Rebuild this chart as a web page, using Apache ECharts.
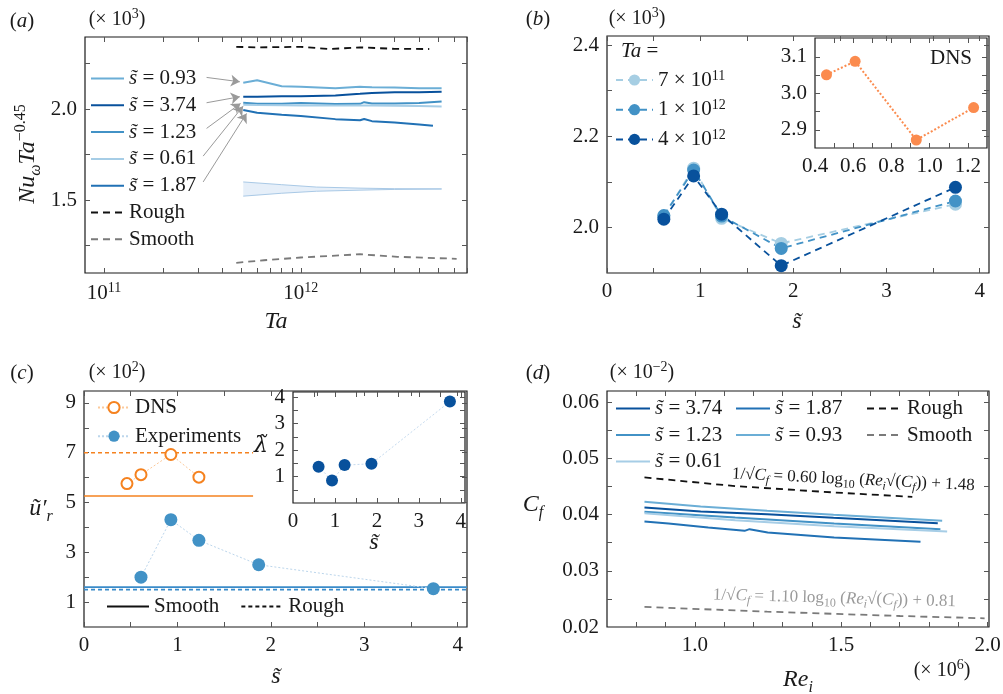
<!DOCTYPE html>
<html>
<head>
<meta charset="utf-8">
<script src="https://cdn.jsdelivr.net/npm/echarts@6/dist/echarts.min.js"></script>
<style>
html, body { margin: 0; padding: 0; background: #fff; }
#main { width: 1003px; height: 694px; }
</style>
</head>
<body>
<div id="main"></div>
<script>
const SERIF = 'Liberation Serif';

// ---------- (a) Nu_w Ta^-0.45 (x10^3) against Ta (Ta in units of 1e12)
const taCurves = [0.51, 0.6, 0.8, 1.0, 1.5, 2.0, 2.1, 2.3, 3.0, 4.0, 5.2];
const nuA093 = [2.145, 2.159, 2.126, 2.123, 2.114, 2.123, 2.122, 2.120, 2.118, 2.114, 2.114];
const nuA374 = [2.068, 2.068, 2.070, 2.071, 2.075, 2.084, 2.086, 2.088, 2.092, 2.093, 2.095];
const nuA123 = [2.035, 2.029, 2.029, 2.033, 2.028, 2.029, 2.038, 2.031, 2.031, 2.033, 2.042];
const nuA061 = [2.024, 2.022, 2.021, 2.020, 2.020, 2.020, 2.020, 2.020, 2.019, 2.017, 2.015];
const ta187 = [0.51, 0.6, 0.8, 1.0, 1.5, 2.0, 2.1, 2.3, 3.0, 4.0, 4.7];
const nuA187 = [1.995, 1.980, 1.969, 1.962, 1.945, 1.939, 1.946, 1.934, 1.927, 1.916, 1.908];
const taRough = [0.47, 0.6, 1.0, 1.4, 2.0, 3.0, 4.5];
const nuRough = [2.342, 2.339, 2.342, 2.330, 2.339, 2.331, 2.330];
const taSmooth = [0.47, 0.65, 1.0, 2.0, 3.1, 6.2];
const nuSmooth = [1.156, 1.170, 1.185, 1.203, 1.189, 1.178];
const taBand = [0.51, 0.8, 1.2, 2.0, 3.0, 5.2];
const bandUpper = [1.600, 1.585, 1.572, 1.566, 1.563, 1.562];
const bandLower = [1.522, 1.538, 1.549, 1.555, 1.559, 1.561];
// arrows from the legend labels to the curve starts: [Ta, value] -> [Ta, value]
const arrowsA = [
  [[0.332, 2.174], [0.490, 2.150]],
  [[0.332, 2.035], [0.490, 2.068]],
  [[0.332, 1.894], [0.494, 2.031]],
  [[0.319, 1.742], [0.509, 2.016]],
  [[0.319, 1.600], [0.530, 1.976]]
];
const taTicks = [1e11, 2e11, 3e11, 4e11, 5e11, 6e11, 7e11, 8e11, 9e11, 1e12, 2e12, 3e12, 4e12, 5e12, 6e12, 7e12];
const taLabels = [1e11, 1e12];

// ---------- (b) Nu_w Ta^-0.45 against s
const sB = [0.61, 0.93, 1.23, 1.87, 3.74];
const nuTa7e11 = [2.025, 2.130, 2.020, 1.965, 2.051];
const nuTa1e12 = [2.026, 2.126, 2.025, 1.954, 2.058];
const nuTa4e12 = [2.018, 2.113, 2.029, 1.916, 2.088];
const sDns = [0.46, 0.61, 0.93, 1.23];
const nuDns = [3.051, 3.088, 2.872, 2.961];

// ---------- (c) u'_r (x10^2) against s
const urDns = [5.76, 6.12, 6.93, 6.02];
const sExp = [0.61, 0.93, 1.23, 1.87, 3.74];
const urExp = [2.00, 4.31, 3.48, 2.50, 1.54];
const urDnsRough = 7.0, urDnsSmooth = 5.26, sDnsRefEnd = 1.81;
const urExpSmooth = 1.60, urExpRough = 1.50;
const lambdaExp = [1.37, 0.85, 1.43, 1.48, 3.83];

// ---------- (d) C_f against Re_i (Re_i in units of 1e6)
const reD374 = [0.828, 1.02, 1.247, 1.474, 1.83];
const cfD374 = [0.04127, 0.04056, 0.04008, 0.03943, 0.03848];
const reD187 = [0.828, 0.910, 1.046, 1.170, 1.187, 1.249, 1.476, 1.771];
const cfD187 = [0.03878, 0.03842, 0.03771, 0.03711, 0.03741, 0.03682, 0.03592, 0.03515];
const reD123 = [0.828, 1.138, 1.476, 1.839];
const cfD123 = [0.0405, 0.03949, 0.03842, 0.03741];
const reD093 = [0.828, 1.02, 1.247, 1.474, 1.845];
const cfD093 = [0.04228, 0.04145, 0.04068, 0.03996, 0.0389];
const reD061 = [0.828, 1.138, 1.476, 1.862];
const cfD061 = [0.04026, 0.03901, 0.03794, 0.03699];
const reRough = [0.828, 1.138, 1.476, 1.743];
const cfRough = [0.04662, 0.04507, 0.04394, 0.04317];
const reSmooth = [0.828, 1.247, 1.701, 1.990];
const cfSmooth = [0.02357, 0.02273, 0.02196, 0.02155];

const C374 = '#08519c', C187 = '#2171b5', C123 = '#4292c6', C093 = '#6baed6', C061 = '#a6cde6';
const ORANGE = '#f5821f', ORANGE_IN = '#fb8b4e';

function rich(fs, lh) {
  const s = Math.round(fs * 0.68);
  return {
    i: { fontFamily: SERIF, fontStyle: 'italic', fontSize: fs, lineHeight: lh },
    g: { fontFamily: 'DejaVu Serif', fontStyle: 'italic', fontSize: fs - 2, lineHeight: lh },
    n: { fontFamily: SERIF, fontSize: fs, lineHeight: lh },
    sup: { fontFamily: SERIF, fontSize: s, lineHeight: s, verticalAlign: 'top' },
    sub: { fontFamily: SERIF, fontSize: s, lineHeight: s, verticalAlign: 'bottom' },
    isub: { fontFamily: SERIF, fontStyle: 'italic', fontSize: s, lineHeight: s, verticalAlign: 'bottom' }
  };
}

const grids = [], xAxes = [], yAxes = [];
function axis(gi, pos, s, withLabels) {
  return {
    type: 'value', gridIndex: gi, position: pos, min: s.min, max: s.max,
    axisLine: { show: false, onZero: false },
    splitLine: { show: false },
    axisTick: { show: true, inside: true, length: 5, lineStyle: { color: '#555', width: 1 }, customValues: s.ticks },
    axisLabel: {
      show: withLabels, customValues: s.labels, formatter: s.fmt,
      fontFamily: SERIF, fontSize: 21, color: '#1a1a1a', margin: 8, rich: rich(21, 24)
    }
  };
}
function panel(box, xs, ys) {
  const gi = grids.length;
  grids.push({ left: box[0], top: box[1], width: box[2], height: box[3], show: true,
    borderColor: '#1a1a1a', borderWidth: 1.2, backgroundColor: '#fff', containLabel: false, outerBoundsMode: 'none' });
  const ax = { x: xAxes.length, y: yAxes.length };
  xAxes.push(axis(gi, 'bottom', xs, true), axis(gi, 'top', xs, false));
  yAxes.push(axis(gi, 'left', ys, true), axis(gi, 'right', ys, false));
  return ax;
}

const lg = v => Math.log10(v);
const axA = panel([85, 37, 382, 236],
  { min: lg(8e10), max: lg(7e12), ticks: taTicks.map(lg), labels: taLabels.map(lg),
    fmt: v => '{n|10}{sup|' + Math.round(v) + '}' },
  { min: 1.1, max: 2.396, ticks: [1.25, 1.5, 1.75, 2.0, 2.25], labels: [1.5, 2.0], fmt: v => v.toFixed(1) });
const axB = panel([607, 36, 382, 237],
  { min: 0, max: 4.1, ticks: [0, 0.5, 1, 1.5, 2, 2.5, 3, 3.5, 4], labels: [0, 1, 2, 3, 4], fmt: v => String(v) },
  { min: 1.9, max: 2.42, ticks: [2.0, 2.1, 2.2, 2.3, 2.4], labels: [2.0, 2.2, 2.4], fmt: v => v.toFixed(1) });
const axBi = panel([815, 38, 172, 110],
  { min: 0.4, max: 1.3, ticks: [0.5, 0.6, 0.7, 0.8, 0.9, 1.0, 1.1, 1.2], labels: [0.4, 0.6, 0.8, 1.0, 1.2], fmt: v => v.toFixed(1) },
  { min: 2.85, max: 3.152, ticks: [2.9, 2.95, 3.0, 3.05, 3.1], labels: [2.9, 3.0, 3.1], fmt: v => v.toFixed(1) });
const axC = panel([84, 391, 383, 236],
  { min: 0, max: 4.1, ticks: [0, 0.5, 1, 1.5, 2, 2.5, 3, 3.5, 4], labels: [0, 1, 2, 3, 4], fmt: v => String(v) },
  { min: 0, max: 9.48, ticks: [1, 2, 3, 4, 5, 6, 7, 8, 9], labels: [1, 3, 5, 7, 9], fmt: v => String(v) });
const axCi = panel([293, 392, 172, 111],
  { min: 0, max: 4.1, ticks: [0.5, 1, 1.5, 2, 2.5, 3, 3.5, 4], labels: [0, 1, 2, 3, 4], fmt: v => String(v) },
  { min: 0, max: 4.19, ticks: [0.5, 1, 1.5, 2, 2.5, 3, 3.5, 4], labels: [1, 2, 3, 4], fmt: v => String(v) });
const axD = panel([607, 391, 382, 236],
  { min: 0.7, max: 2.005, ticks: [0.8, 0.9, 1.0, 1.1, 1.2, 1.3, 1.4, 1.5, 1.6, 1.7, 1.8, 1.9, 2.0], labels: [1.0, 1.5, 2.0], fmt: v => v.toFixed(1) },
  { min: 0.02, max: 0.062, ticks: [0.025, 0.03, 0.035, 0.04, 0.045, 0.05, 0.055, 0.06], labels: [0.02, 0.03, 0.04, 0.05, 0.06], fmt: v => v.toFixed(2) });

function line(name, ax, xs, ys, color, o) {
  return Object.assign({
    type: 'line', name: name, xAxisIndex: ax.x, yAxisIndex: ax.y, color: color,
    data: xs.map((x, i) => [x, ys[i]]), symbol: 'none',
    lineStyle: { color: color, width: 2, type: 'solid' }, animation: false, silent: true, z: 3
  }, o || {});
}
const taLog = arr => arr.map(t => Math.log10(t * 1e12));

// shaded band of panel (a): one polygon through upper edge and back along lower edge
const bandSeries = {
  type: 'custom', name: 'band', xAxisIndex: axA.x, yAxisIndex: axA.y, silent: true, animation: false, z: 2,
  data: taBand.map((t, i) => [Math.log10(t * 1e12), bandLower[i], bandUpper[i]]),
  renderItem: function (params, api) {
    if (params.dataIndex !== 0) return null;
    const xs = taLog(taBand);
    const up = xs.map((x, i) => api.coord([x, bandUpper[i]]));
    const lo = xs.map((x, i) => api.coord([x, bandLower[i]])).reverse();
    return { type: 'polygon', shape: { points: up.concat(lo) }, style: { fill: '#e6eff9', stroke: null } };
  }
};

const series = [
  // (a)
  bandSeries,
  line('bandLo', axA, taLog(taBand), bandLower, '#a9c9e6', { lineStyle: { color: '#a9c9e6', width: 1 } }),
  line('bandHi', axA, taLog(taBand), bandUpper, '#a9c9e6', { lineStyle: { color: '#a9c9e6', width: 1 } }),
  line('s093', axA, taLog(taCurves), nuA093, C093),
  line('s374', axA, taLog(taCurves), nuA374, C374),
  line('s123', axA, taLog(taCurves), nuA123, C123),
  line('s061', axA, taLog(taCurves), nuA061, C061),
  line('s187', axA, taLog(ta187), nuA187, C187),
  line('roughA', axA, taLog(taRough), nuRough, '#111', {
    lineStyle: { color: '#111', width: 1.8, type: [7, 5] },
    markLine: {
      silent: true, animation: false, symbol: ['none', 'arrow'], symbolSize: 9,
      label: { show: false }, lineStyle: { color: '#9a9a9a', width: 1, type: 'solid' },
      data: arrowsA.map(a => [
        { coord: [Math.log10(a[0][0] * 1e12), a[0][1]] },
        { coord: [Math.log10(a[1][0] * 1e12), a[1][1]] }
      ])
    }
  }),
  line('smoothA', axA, taLog(taSmooth), nuSmooth, '#7a7a7a', { lineStyle: { color: '#7a7a7a', width: 1.8, type: [7, 5] } }),
  // (b)
  line('ta7e11', axB, sB, nuTa7e11, '#a6cee3', { symbol: 'circle', symbolSize: 13, lineStyle: { color: '#a6cee3', width: 1.8, type: [7, 5] } }),
  line('ta1e12', axB, sB, nuTa1e12, '#4292c6', { symbol: 'circle', symbolSize: 13, lineStyle: { color: '#4292c6', width: 1.8, type: [7, 5] } }),
  line('ta4e12', axB, sB, nuTa4e12, '#08519c', { symbol: 'circle', symbolSize: 13, lineStyle: { color: '#08519c', width: 1.8, type: [7, 5] } }),
  line('dnsB', axBi, sDns, nuDns, ORANGE_IN, { symbol: 'circle', symbolSize: 11, lineStyle: { color: ORANGE_IN, width: 2, type: [2, 2] } }),
  // (c)
  line('dnsRoughRef', axC, [0, sDnsRefEnd], [urDnsRough, urDnsRough], ORANGE, { lineStyle: { color: ORANGE, width: 1.6, type: [4, 3] } }),
  line('dnsSmoothRef', axC, [0, sDnsRefEnd], [urDnsSmooth, urDnsSmooth], ORANGE, { lineStyle: { color: ORANGE, width: 1.6 } }),
  line('expSmoothRef', axC, [0, 4.1], [urExpSmooth, urExpSmooth], '#3a8bc9', { lineStyle: { color: '#3a8bc9', width: 1.6 } }),
  line('expRoughRef', axC, [0, 4.1], [urExpRough, urExpRough], '#3a8bc9', { lineStyle: { color: '#3a8bc9', width: 1.6, type: [4, 3] } }),
  line('dnsC', axC, sDns, urDns, ORANGE, { symbol: 'emptyCircle', symbolSize: 11, itemStyle: { color: ORANGE, borderWidth: 2.5 },
    lineStyle: { color: '#fcc99a', width: 1, type: [2, 2] }, z: 4 }),
  line('expC', axC, sExp, urExp, '#4292c6', { symbol: 'circle', symbolSize: 13, lineStyle: { color: '#bcd6ec', width: 1, type: [2, 2] }, z: 4 }),
  line('smoothC', axC, [], [], '#111', { lineStyle: { color: '#111', width: 1.8 } }),
  line('roughC', axC, [], [], '#111', { lineStyle: { color: '#111', width: 1.8, type: [4, 3] } }),
  line('lambdaC', axCi, sExp, lambdaExp, '#08519c', { symbol: 'circle', symbolSize: 12, lineStyle: { color: '#c6dbef', width: 1, type: [2, 2] } }),
  // (d)
  line('s374', axD, reD374, cfD374, C374),
  line('s187', axD, reD187, cfD187, C187),
  line('s123', axD, reD123, cfD123, C123),
  line('s093', axD, reD093, cfD093, C093),
  line('s061', axD, reD061, cfD061, C061),
  line('roughD', axD, reRough, cfRough, '#111', { lineStyle: { color: '#111', width: 1.8, type: [7, 5] } }),
  line('smoothD', axD, reSmooth, cfSmooth, '#7a7a7a', { lineStyle: { color: '#7a7a7a', width: 1.8, type: [7, 5] } })
];

const LEG = {
  s093: '{i|s̃}{n| = 0.93}', s374: '{i|s̃}{n| = 3.74}', s123: '{i|s̃}{n| = 1.23}',
  s061: '{i|s̃}{n| = 0.61}', s187: '{i|s̃}{n| = 1.87}',
  roughA: '{n|Rough}', smoothA: '{n|Smooth}', roughD: '{n|Rough}', smoothD: '{n|Smooth}',
  ta7e11: '{n|7 × 10}{sup|11}', ta1e12: '{n|1 × 10}{sup|12}', ta4e12: '{n|4 × 10}{sup|12}',
  dnsC: '{n|DNS}', expC: '{n|Experiments}', smoothC: '{n|Smooth}', roughC: '{n|Rough}'
};
const NO_SYMBOL = { itemStyle: { opacity: 0, color: 'rgba(0,0,0,0)', borderWidth: 0 } };
function legend(data, o) {
  const lh = o.lh || 20;
  return Object.assign({
    data: data, orient: 'vertical', itemWidth: 33, itemHeight: 14, selectedMode: false,
    formatter: n => LEG[n], padding: 0,
    textStyle: { fontFamily: SERIF, fontSize: 21, lineHeight: lh, color: '#1a1a1a', rich: rich(21, lh) }
  }, o);
}
const legends = [
  legend(['s093', 's374', 's123', 's061', 's187', 'roughA', 'smoothA'], Object.assign({ left: 90, top: 68, itemGap: 5.8 }, NO_SYMBOL)),
  legend(['ta7e11', 'ta1e12', 'ta4e12'], { left: 615, top: 69, itemWidth: 37, itemGap: 7.7, lh: 22 }),
  legend(['dnsC', 'expC'], { left: 97, top: 397, itemWidth: 32, itemGap: 7.7 }),
  legend(['smoothC', 'roughC'], Object.assign({ left: 106, top: 596, orient: 'horizontal', itemWidth: 42, itemGap: 21 }, NO_SYMBOL)),
  legend(['s374', 's123', 's061'], Object.assign({ left: 615, top: 398, itemWidth: 34, itemGap: 5.5 }, NO_SYMBOL)),
  legend(['s187', 's093'], Object.assign({ left: 735, top: 398, itemWidth: 34, itemGap: 5.5 }, NO_SYMBOL)),
  legend(['roughD', 'smoothD'], Object.assign({ left: 866, top: 398, itemWidth: 35, itemGap: 5.5 }, NO_SYMBOL))
];

function txt(x, y, text, fs, o) {
  o = o || {};
  const lh = Math.round(fs * 1.3);
  return {
    type: 'text', x: x, y: y, z: 100, silent: true, rotation: o.rotation || 0,
    style: {
      text: text, fontFamily: SERIF, fontSize: fs, fill: o.color || '#1a1a1a',
      align: o.align || 'center', verticalAlign: 'middle', rich: rich(fs, lh)
    }
  };
}
const graphics = [
  txt(22, 21, '{n|(}{i|a}{n|)}', 21),
  txt(117, 20, '{n|(× 10}{sup|3}{n|)}', 20),
  txt(538, 19, '{n|(}{i|b}{n|)}', 21),
  txt(637, 19, '{n|(× 10}{sup|3}{n|)}', 20),
  txt(22, 373, '{n|(}{i|c}{n|)}', 21),
  txt(117, 373, '{n|(× 10}{sup|2}{n|)}', 20),
  txt(538, 373, '{n|(}{i|d}{n|)}', 21),
  txt(642, 373, '{n|(× 10}{sup|−2}{n|)}', 20),
  txt(942, 671, '{n|(× 10}{sup|6}{n|)}', 20),
  txt(28, 154, '{i|Nu}{isub|ω}{i|Ta}{sup|−0.45}', 24, { rotation: Math.PI / 2 }),
  txt(276, 322, '{i|Ta}', 24),
  txt(797, 322, '{i|s̃}', 24),
  txt(621, 51, '{i|Ta}{n| =}', 21, { align: 'left' }),
  txt(951, 58, '{n|DNS}', 21),
  txt(276, 677, '{i|s̃}', 24),
  txt(41, 509, '{i|ũ′}{isub|r}', 24),
  txt(261, 446, '{g|λ̃}', 24),
  txt(374, 543, '{i|s̃}', 24),
  txt(533, 505, '{i|C}{isub|f}', 24),
  txt(798, 680, '{i|Re}{isub|i}', 24),
  txt(732, 474, '{n|1/√}{i|C}{isub|f}{n| = 0.60 log}{sub|10}{n| (}{i|Re}{isub|i}{n|√(}{i|C}{isub|f}{n|)) + 1.48}', 17, { align: 'left', rotation: -0.048 }),
  txt(713, 595, '{n|1/√}{i|C}{isub|f}{n| = 1.10 log}{sub|10}{n| (}{i|Re}{isub|i}{n|√(}{i|C}{isub|f}{n|)) + 0.81}', 17, { align: 'left', rotation: -0.028, color: '#9a9a9a' })
];

const chart = echarts.init(document.getElementById('main'));
chart.setOption({
  backgroundColor: '#fff',
  animation: false,
  grid: grids,
  xAxis: xAxes,
  yAxis: yAxes,
  legend: legends,
  series: series,
  graphic: graphics
});
</script>
</body>
</html>
